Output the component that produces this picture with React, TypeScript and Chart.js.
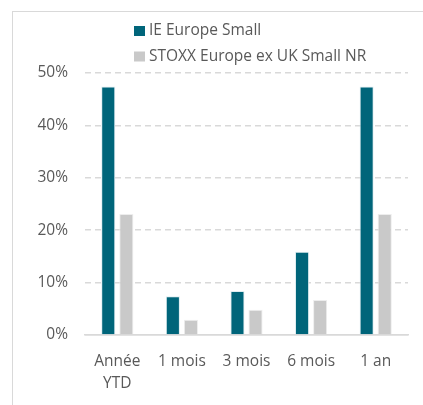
import React, { useEffect, useRef } from "react";
import { Chart, registerables } from "chart.js";

Chart.register(...registerables);

const categories: (string | string[])[] = [["Année", "YTD"], "1 mois", "3 mois", "6 mois", "1 an"];
const fundLabel = "IE Europe Small";
const indexLabel = "STOXX Europe ex UK Small NR";
const fundValues = [47.4, 7.4, 8.4, 15.9, 47.4];
const indexValues = [23.1, 2.9, 4.8, 6.7, 23.1];
const yTicks = [0, 10, 20, 30, 40, 50];

const FONT = "'Open Sans'";
const FS = 15.5;
const TEXT = "#595959";
const GRID = "#d9d9d9";
const TEAL = "#00657a";
const GREY = "#c9c9c9";

const legendPlugin = {
  id: "verticalLegend",
  afterDraw(chart: any) {
    const ctx = chart.ctx;
    ctx.save();
    chart.data.datasets.forEach((ds: any, i: number) => {
      const y = 31 + i * 25.5;
      ctx.fillStyle = ds.backgroundColor;
      ctx.fillRect(134, y - 5, 11, 10);
      ctx.fillStyle = TEXT;
      ctx.font = `${FS}px ${FONT}`;
      ctx.textBaseline = "middle";
      ctx.textAlign = "left";
      ctx.fillText(ds.label, 149, y);
    });
    ctx.restore();
  },
};

export default function App() {
  const ref = useRef<HTMLCanvasElement>(null);
  useEffect(() => {
    if (!ref.current) return;
    const chart = new Chart(ref.current, {
      type: "bar",
      data: {
        labels: categories,
        datasets: [
          {
            label: fundLabel,
            data: fundValues,
            backgroundColor: TEAL,
            borderColor: "rgba(220,235,240,0.9)",
            borderWidth: 1,
            categoryPercentage: 0.56,
            barPercentage: 0.78,
          },
          {
            label: indexLabel,
            data: indexValues,
            backgroundColor: GREY,
            borderColor: "rgba(235,235,235,0.9)",
            borderWidth: 1,
            categoryPercentage: 0.56,
            barPercentage: 0.78,
          },
        ],
      },
      options: {
        animation: false,
        responsive: false,
        maintainAspectRatio: false,
        layout: { padding: { left: 12, right: 15, top: 73, bottom: 0 } },
        plugins: { legend: { display: false }, tooltip: { enabled: false } },
        scales: {
          x: {
            grid: { display: false, drawTicks: false },
            border: { display: true, color: GRID, width: 1.5 },
            ticks: {
              color: TEXT,
              font: { family: FONT, size: FS, lineHeight: 1.45 },
              padding: 15,
              maxRotation: 0,
              autoSkip: false,
            },
            afterFit: (s: any) => {
              s.height = 70;
            },
          },
          y: {
            min: 0,
            max: 50,
            afterBuildTicks: (s: any) => {
              s.ticks = yTicks.map((v) => ({ value: v }));
            },
            ticks: {
              color: TEXT,
              font: { family: FONT, size: FS },
              padding: 17,
              callback: (v: any) => v + "%",
            },
            grid: { color: GRID, drawTicks: false, lineWidth: 1.5 },
            border: {
              display: false,
              dash: (c: any) => (c.tick && c.tick.value === 0 ? [] : [6, 4]),
            },
            afterFit: (s: any) => {
              s.width = 73;
            },
          },
        },
      },
      plugins: [legendPlugin],
    });
    return () => chart.destroy();
  }, []);

  return (
    <div style={{ position: "fixed", left: 0, top: 0, width: 423, height: 405, background: "#fff" }}>
      <div
        style={{
          position: "absolute",
          left: 12,
          top: 11,
          width: 420,
          height: 400,
          borderLeft: `1px solid ${GRID}`,
          borderTop: `1px solid ${GRID}`,
        }}
      />
      <canvas ref={ref} width={423} height={405} style={{ position: "absolute", left: 0, top: 0 }} />
    </div>
  );
}
